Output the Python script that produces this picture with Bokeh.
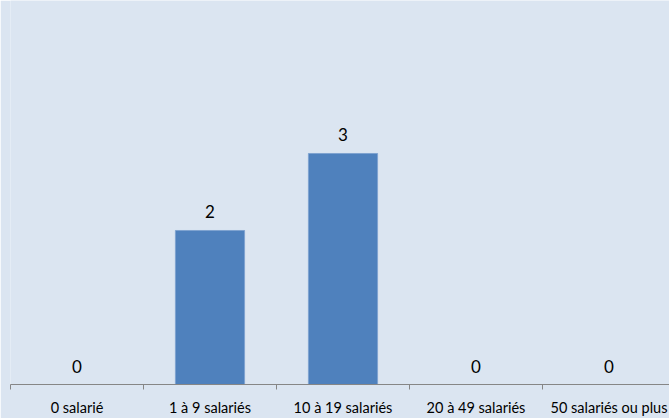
from bokeh.plotting import figure
from bokeh.models import ColumnDataSource, Range1d, FixedTicker
from bokeh.embed import file_html
from bokeh.resources import INLINE
from bokeh.core.properties import value

categories = ["0 salarié", "1 à 9 salariés", "10 à 19 salariés", "20 à 49 salariés", "50 salariés ou plus"]
counts = [0, 2, 3, 0, 0]

BG = "#dbe5f1"
pos = [i + 0.5 for i in range(len(categories))]
src = ColumnDataSource(dict(x=pos, top=counts, label=[str(c) for c in counts]))

p = figure(width=669, height=418, output_backend="svg", toolbar_location=None,
           x_range=Range1d(0, 4.955), y_range=Range1d(0, 4.987),
           min_border_left=10, min_border_right=0, min_border_top=0, min_border_bottom=34)
p.background_fill_color = BG
p.border_fill_color = BG
p.outline_line_color = None
p.grid.visible = False
p.yaxis.visible = False

p.vbar(x="x", top="top", width=0.52, source=src, fill_color="#4f81bd", line_color="#7fa3d0", line_width=1)
p.text(x="x", y="top", text="label", source=src, text_align="center", text_baseline="bottom",
       y_offset=-12, text_font=value("Lato"), text_font_size="17px", text_color="#000000")

ax = p.xaxis[0]
ax.ticker = FixedTicker(ticks=pos, minor_ticks=list(range(len(categories) + 1)))
ax.major_label_overrides = {pp: c for pp, c in zip(pos, categories)}
ax.major_tick_line_color = None
ax.minor_tick_line_color = "#868686"
ax.minor_tick_in = 0
ax.minor_tick_out = 5
ax.axis_line_color = "#868686"
ax.major_label_text_font = "Lato"
ax.major_label_text_font_size = "14.5px"
ax.major_label_text_color = "#000000"
ax.major_label_standoff = 8

html = file_html(p, INLINE)
html = html.replace("<body>", '<body style="margin:0;background:%s">' % BG, 1)
open("out.html", "w").write(html)
